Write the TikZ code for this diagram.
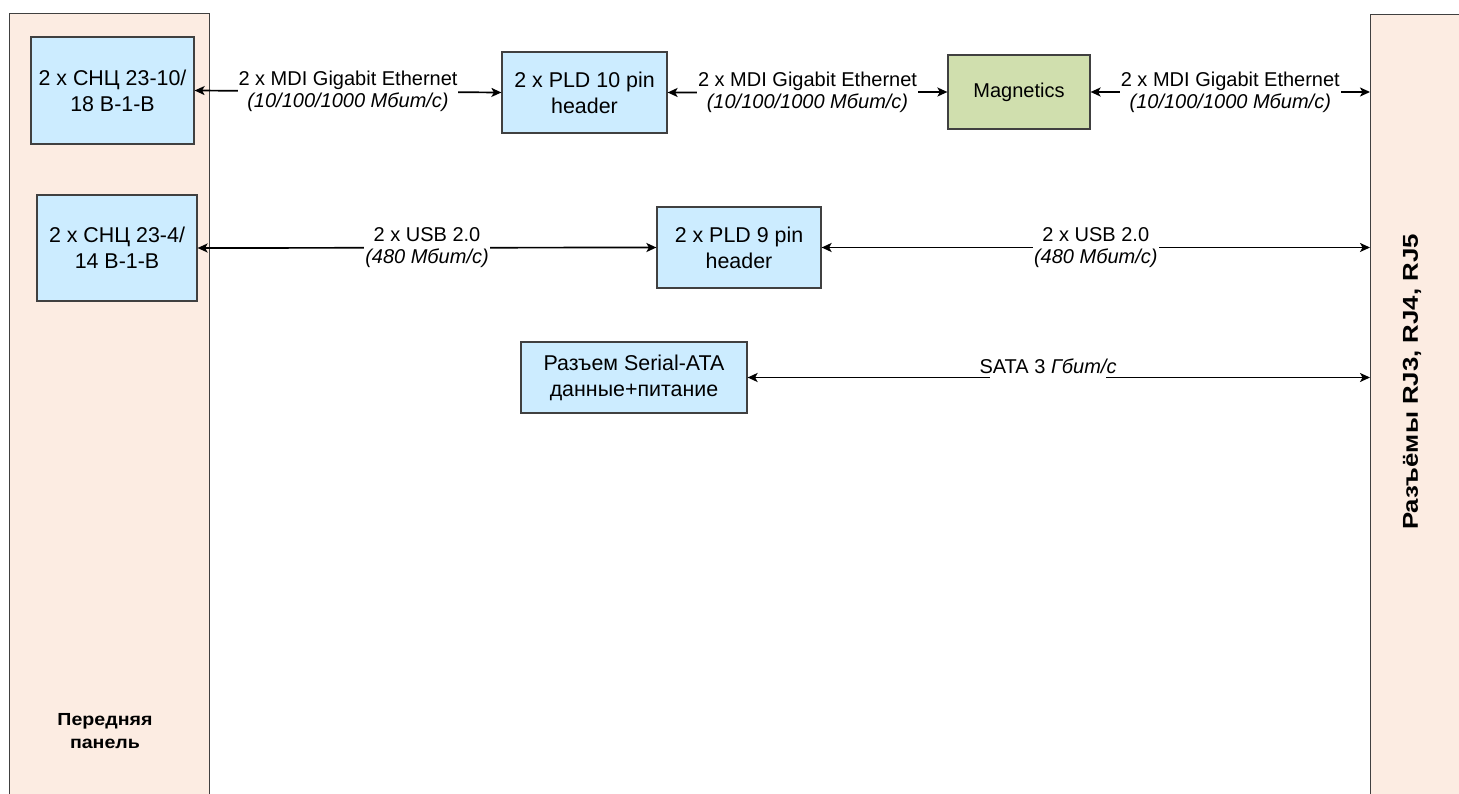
\documentclass[tikz,border=0pt]{standalone}
\usepackage{fontspec}
\setmainfont{Liberation Sans}
\newfontfamily\widesans[FakeStretch=1.2]{Liberation Sans}
\newfontfamily\widesansb[FakeStretch=1.12]{Liberation Sans}
\usetikzlibrary{arrows.meta,calc}
\definecolor{boxblue}{HTML}{CCECFF}
\definecolor{boxgreen}{HTML}{D0DFAE}
\definecolor{panelfill}{HTML}{FCECE2}
\definecolor{edge}{HTML}{404040}
\tikzset{
  panel/.style={draw=edge, line width=1.2pt, fill=panelfill, anchor=north west, inner sep=0pt},
  blk/.style={draw=edge, line width=1.2pt, fill=boxblue, align=center, inner sep=0pt,
    font=\fontsize{21.4}{26}\selectfont},
  gblk/.style={blk, fill=boxgreen, font=\fontsize{20}{24}\selectfont},
  tip/.tip={Stealth[length=10pt,width=9pt,inset=2.5pt]},
  link/.style={line width=1.7pt, draw=black, {tip}-{tip}},
  lbl/.style={fill=white, align=center, inner sep=1pt, font=\fontsize{20}{22}\selectfont},
  ptext/.style={align=center, font=\fontsize{17.5}{23}\selectfont\widesansb\bfseries},
}
\begin{document}
\begin{tikzpicture}[x=1pt,y=-1pt]
\path[use as bounding box] (0,0) rectangle (1459,794);
\clip (0,0) rectangle (1459,794);
% panels
\node[panel, minimum width=200pt, minimum height=800pt] (lp) at (9,13) {};
\node[panel, minimum width=110pt, minimum height=800pt] (rp) at (1370,14) {};
\node[ptext] (lpt) at (105,731.5) {Передняя\\панель};
\node[ptext, rotate=90, font=\fontsize{21.5}{26}\selectfont\widesans\bfseries] (rpt) at (1412,382) {Разъёмы RJ3, RJ4, RJ5};
% blocks
\node[blk, minimum width=163pt, minimum height=107pt] (b1) at (112.5,90.5) {2 x СНЦ 23-10/\\18 В-1-В};
\node[blk, minimum width=160pt, minimum height=106pt] (b2) at (117,248) {2 x СНЦ 23-4/\\14 В-1-В};
\node[blk, minimum width=165pt, minimum height=81pt] (pld10) at (584.5,92.5) {2 x PLD 10 pin\\header};
\node[gblk, minimum width=142pt, minimum height=74pt] (mag) at (1019,92) {Magnetics};
\node[blk, minimum width=164pt, minimum height=81pt] (pld9) at (739,247.5) {2 x PLD 9 pin\\header};
\node[blk, minimum width=226pt, minimum height=71pt] (sata) at (634,377.5) {Разъем Serial-ATA\\данные+питание};
% links
\draw[link] (b1.east) -- node[lbl] (l1) {2 x MDI Gigabit Ethernet\\\textit{(10/100/1000 Мбит/с)}} (pld10.west);
\draw[link] (pld10.east) -- node[lbl] (l2) {2 x MDI Gigabit Ethernet\\\textit{(10/100/1000 Мбит/с)}} (mag.west);
\draw[link] (mag.east) -- node[lbl] (l3) {2 x MDI Gigabit Ethernet\\\textit{(10/100/1000 Мбит/с)}} (mag.east -| rp.west);
\draw[link] (b2.east) -- node[lbl] (l4) {2 x USB 2.0\\\textit{(480 Мбит/с)}} (pld9.west);
\draw[link] (pld9.east) -- node[lbl] (l5) {2 x USB 2.0\\\textit{(480 Мбит/с)}} (pld9.east -| rp.west);
\draw[link] (sata.east) -- (sata.east -| rp.west);
\node[lbl, anchor=base, inner sep=1pt, inner xsep=-10pt, text depth=7pt] (l6g) at (1048,373) {\phantom{SATA 3 \textit{Гбит/с}}};
\node[anchor=base, inner sep=0pt, font=\fontsize{20}{22}\selectfont] (l6) at (1048,373) {SATA 3 \textit{Гбит/с}};
\end{tikzpicture}
\end{document}
